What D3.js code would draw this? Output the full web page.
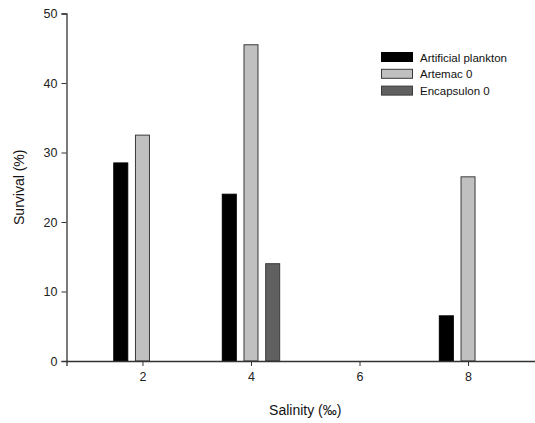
<!DOCTYPE html>
<html>
<head>
<meta charset="utf-8">
<script src="https://cdn.jsdelivr.net/npm/d3@7"></script>
<style>
  body { margin: 0; background: #fff; }
  svg { display: block; font-family: "Liberation Sans", Arial, sans-serif; }
</style>
</head>
<body>
<svg id="chart" width="535" height="423"></svg>
<script>
// data
const salinity = [2, 4, 6, 8]
const seriesNames = ["Artificial plankton", "Artemac 0", "Encapsulon 0"]
const artificialPlankton = [28.5, 24, 0, 6.5]
const artemac = [32.5, 45.5, 0, 26.5]
const encapsulon = [0, 14, 0, 0]
const yTicks = [0, 10, 20, 30, 40, 50]
const colors = ["#000000", "#c0c0c0", "#606060"]

const svg = d3.select("#chart")
const plotLeft = 66.5, plotRight = 544, plotTop = 13.5, plotBottom = 361

const x = d3.scaleLinear().domain([0.6, 9.4]).range([plotLeft, plotRight])
const y = d3.scaleLinear().domain([0, 50]).range([plotBottom, plotTop])

const allSeries = [artificialPlankton, artemac, encapsulon]
const slot = 21.7, barW = 14

// bars
allSeries.forEach(function(vals, s) {
  svg.append("g")
    .selectAll("rect")
    .data(vals.map(function(v, i) { return { x: salinity[i], v: v } }).filter(function(d) { return d.v > 0 }))
    .enter().append("rect")
    .attr("x", function(d) { return x(d.x) + (s - 1) * slot - barW / 2 })
    .attr("y", function(d) { return y(d.v) })
    .attr("width", barW)
    .attr("height", function(d) { return y(0) - y(d.v) })
    .attr("fill", colors[s])
    .attr("stroke", s == 0 ? "#000" : "#3a3a3a")
    .attr("stroke-width", 1)
})

// axes
const yAxis = svg.append("g")
  .attr("transform", "translate(" + plotLeft + ",0)")
  .call(d3.axisLeft(y).tickValues(yTicks).tickSize(5).tickPadding(4))
const xAxis = svg.append("g")
  .attr("transform", "translate(0," + plotBottom + ")")
  .call(d3.axisBottom(x).tickValues(salinity).tickSize(5).tickPadding(6))

;[yAxis, xAxis].forEach(function(a) {
  a.select(".domain").attr("stroke", "#333").attr("stroke-width", 1.3)
  a.selectAll(".tick line").attr("stroke", "#333")
  a.selectAll("text").attr("font-size", 12.5).attr("fill", "#222").attr("font-family", "Liberation Sans, Arial, sans-serif")
})

// axis titles
svg.append("text")
  .attr("x", (plotLeft + plotRight) / 2)
  .attr("y", 415)
  .attr("text-anchor", "middle")
  .attr("font-size", 14)
  .attr("fill", "#111")
  .text("Salinity (‰)")

svg.append("text")
  .attr("transform", "translate(24," + (plotTop + plotBottom) / 2 + ") rotate(-90)")
  .attr("text-anchor", "middle")
  .attr("font-size", 14)
  .attr("fill", "#111")
  .text("Survival (%)")

// legend
const legend = svg.append("g").attr("transform", "translate(381.5,52.5)")
const rows = legend.selectAll("g").data(seriesNames).enter().append("g")
  .attr("transform", function(d, i) { return "translate(0," + i * 16.8 + ")" })
rows.append("rect")
  .attr("width", 31).attr("height", 9)
  .attr("fill", function(d, i) { return colors[i] })
  .attr("stroke", function(d, i) { return i == 0 ? "#000" : "#3a3a3a" })
rows.append("text")
  .attr("x", 38.5).attr("y", 9)
  .attr("font-size", 11.5)
  .attr("fill", "#111")
  .text(function(d) { return d })
</script>
</body>
</html>
